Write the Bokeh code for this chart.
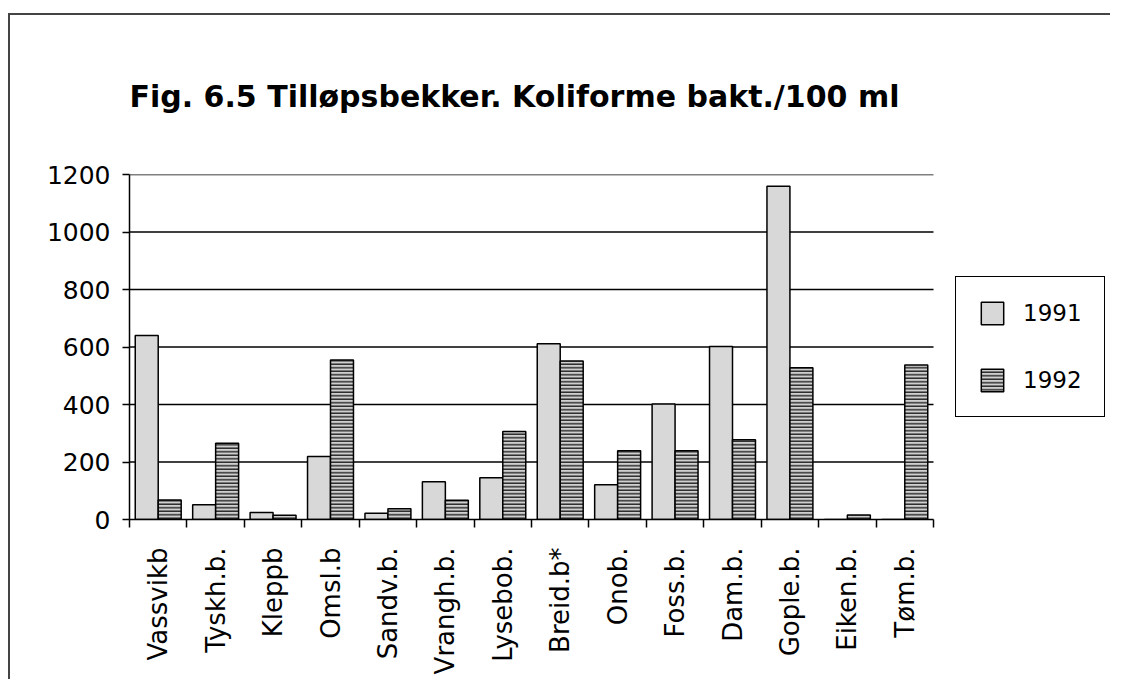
from bokeh.plotting import figure
from bokeh.models import (ColumnDataSource, FixedTicker, CustomJSTickFormatter, Legend, LegendItem,
                          Range1d)
from bokeh.embed import file_html
from bokeh.resources import INLINE
import math

categories = ["Vassvikb", "Tyskh.b.", "Kleppb", "Omsl.b", "Sandv.b.", "Vrangh.b.", "Lysebob.",
              "Breid.b*", "Onob.", "Foss.b.", "Dam.b.", "Gople.b.", "Eiken.b.", "Tøm.b."]
v1991 = [640, 51, 24, 219, 22, 131, 145, 611, 121, 402, 602, 1159, 0, 0]
v1992 = [68, 265, 15, 555, 37, 67, 306, 551, 239, 239, 277, 528, 16, 537]
y_ticks = [0, 200, 400, 600, 800, 1000, 1200]

n = len(categories)
centers = [i + 0.5 for i in range(n)]
src = ColumnDataSource(dict(
    x1=[c - 0.2 for c in centers], x2=[c + 0.2 for c in centers],
    v1991=v1991, v1992=v1992))

BAR_AREA_PX = 804      # pixel width of the category area
FRAME_PX = 981         # frame extends to the right to host the legend
x_end = n * FRAME_PX / BAR_AREA_PX

p = figure(frame_width=FRAME_PX, frame_height=345, output_backend="svg", toolbar_location=None,
           x_range=Range1d(0, x_end), y_range=Range1d(0, 1200),
           min_border_left=119, min_border_top=159, min_border_bottom=160, min_border_right=0)
p.styles = {"border-top": "2px solid #444", "border-left": "2px solid #444",
            "margin-left": "8px", "margin-top": "13px"}
p.outline_line_color = None
p.background_fill_color = "white"

p.title.text = "Fig. 6.5 Tilløpsbekker. Koliforme bakt./100 ml"
p.title.text_font = "DejaVu Sans"
p.title.text_font_style = "bold"
p.title.text_font_size = "30px"
p.title.text_color = "black"
p.title.align = "left"
p.title.offset = 0
p.title.standoff = 121

# horizontal gridlines limited to the category area
p.ygrid.grid_line_color = None
p.xgrid.grid_line_color = None
grid_src = ColumnDataSource(dict(y=y_ticks[1:], x0=[0] * (len(y_ticks) - 1),
                                 x1=[n] * (len(y_ticks) - 1)))
p.segment(x0="x0", x1="x1", y0="y", y1="y", source=grid_src, line_color="black", line_width=1.5)

r1 = p.vbar(x="x1", top="v1991", width=0.4, source=src, fill_color="#d8d8d8",
            line_color="black", line_width=1.5)
r2 = p.vbar(x="x2", top="v1992", width=0.4, source=src, fill_color="#cfcfcf",
            hatch_pattern="horizontal_line", hatch_scale=3.5, hatch_weight=1.4,
            hatch_color="#222222", line_color="black", line_width=1.5)

# y axis
p.yaxis.ticker = FixedTicker(ticks=y_ticks)
p.yaxis.minor_tick_line_color = None
p.yaxis.major_tick_out = 7
p.yaxis.major_tick_in = 0
p.yaxis.major_label_standoff = 12
p.yaxis.major_label_text_font = "DejaVu Sans"
p.yaxis.major_label_text_font_size = "25px"
p.yaxis.major_label_text_color = "black"
p.yaxis.axis_line_color = "black"
p.yaxis.axis_line_width = 1.5
p.yaxis.major_tick_line_width = 1.5

# x axis
p.xaxis.bounds = (0, n)
p.xaxis.ticker = FixedTicker(ticks=centers, minor_ticks=list(range(n + 1)))
p.xaxis.formatter = CustomJSTickFormatter(args=dict(names=categories),
                                          code="return names[Math.floor(tick)] || '';")
p.xaxis.major_tick_out = 0
p.xaxis.major_tick_in = 0
p.xaxis.minor_tick_out = 8
p.xaxis.minor_tick_in = 0
p.xaxis.minor_tick_line_color = "black"
p.xaxis.minor_tick_line_width = 1.5
p.xaxis.major_label_orientation = math.pi / 2
p.xaxis.major_label_standoff = 20
p.xaxis.major_label_text_font = "DejaVu Sans"
p.xaxis.major_label_text_font_size = "26px"
p.xaxis.major_label_text_color = "black"
p.xaxis.axis_line_color = "black"
p.xaxis.axis_line_width = 1.5

legend = Legend(items=[LegendItem(label="1991", renderers=[r1]),
                       LegendItem(label="1992", renderers=[r2])],
                location=(826, 102), orientation="vertical")
legend.padding = 22
legend.margin = 0
legend.spacing = 39
legend.glyph_width = 28
legend.glyph_height = 28
legend.label_standoff = 17
legend.label_text_font = "DejaVu Sans"
legend.label_text_font_size = "23px"
legend.label_text_color = "black"
legend.border_line_color = "black"
legend.border_line_alpha = 1
legend.border_line_width = 1.5
legend.background_fill_alpha = 1
p.add_layout(legend, "center")

open("out.html", "w").write(file_html(p, INLINE))
